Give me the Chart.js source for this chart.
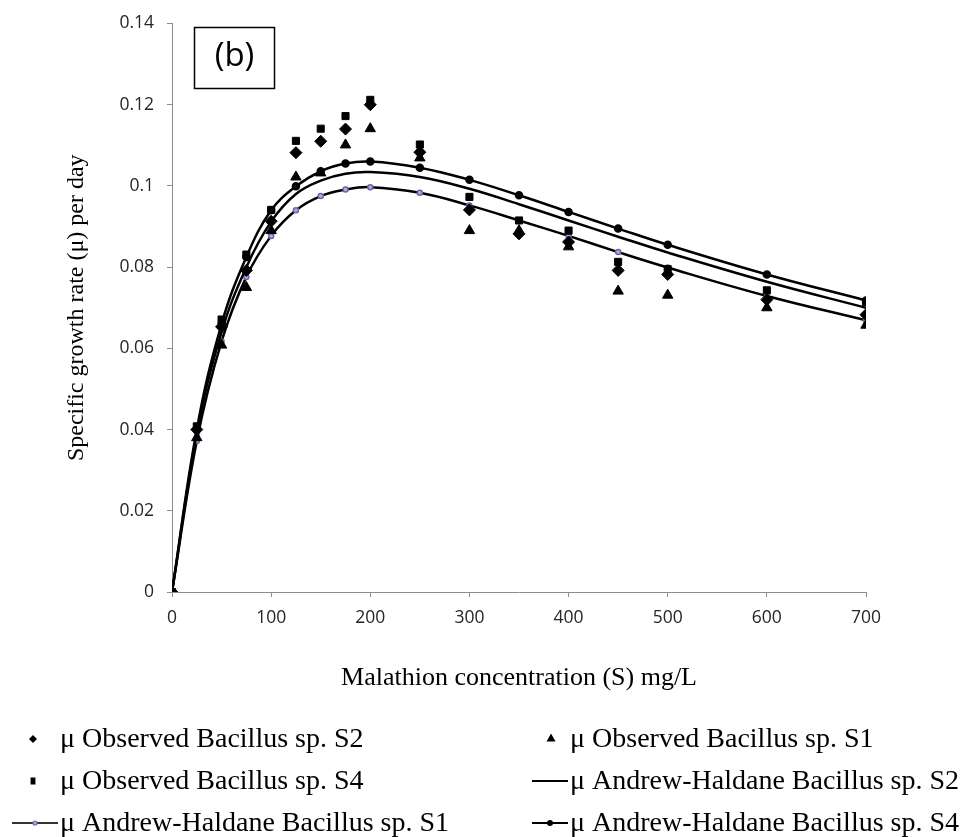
<!DOCTYPE html>
<html>
<head>
<meta charset="utf-8">
<script src="https://cdn.jsdelivr.net/npm/chart.js@4.4.1/dist/chart.umd.min.js"></script>
<style>
  html, body { margin: 0; padding: 0; background: #fff; }
  #wrap { width: 972px; height: 837px; position: relative; }
</style>
</head>
<body>
<div id="wrap"><canvas id="growthChart"></canvas></div>
<script>
// Malathion concentration (S) mg/L
const concentration = [0, 25, 50, 75, 100, 125, 150, 175, 200, 250, 300, 350, 400, 450, 500, 600, 700];

// observed specific growth rates
const obsS2 = [0, 0.0400, 0.0653, 0.0792, 0.0913, 0.1082, 0.1110, 0.1140, 0.1200, 0.1083, 0.0941, 0.0882, 0.0862, 0.0792, 0.0782, 0.0720, 0.0683];
const obsS1 = [0, 0.0380, 0.0608, 0.0750, 0.0890, 0.1022, 0.1032, 0.1101, 0.1141, 0.1069, 0.0890, 0.0890, 0.0850, 0.0741, 0.0731, 0.0700, 0.0657];
const obsS4 = [0, 0.0408, 0.0671, 0.0831, 0.0941, 0.1111, 0.1141, 0.1172, 0.1212, 0.1102, 0.0973, 0.0915, 0.0890, 0.0813, 0.0795, 0.0743, 0.0714];

// Andrew-Haldane model curves
const fitS2 = [0, 0.0390, 0.0640, 0.0800, 0.0912, 0.0980, 0.1013, 0.1030, 0.1034, 0.1022, 0.0993, 0.0955, 0.0915, 0.0875, 0.0836, 0.0764, 0.0700];
const fitS1 = [0, 0.0372, 0.0617, 0.0776, 0.0877, 0.0940, 0.0975, 0.0991, 0.0997, 0.0983, 0.0952, 0.0915, 0.0877, 0.0837, 0.0799, 0.0729, 0.0669];
const fitS4 = [0, 0.0400, 0.0660, 0.0825, 0.0940, 0.0999, 0.1036, 0.1055, 0.1060, 0.1045, 0.1015, 0.0977, 0.0936, 0.0895, 0.0855, 0.0782, 0.0718];

const xTicks = [0, 100, 200, 300, 400, 500, 600, 700];
const yTickLabels = ["0", "0.02", "0.04", "0.06", "0.08", "0.1", "0.12", "0.14"];

const legendLabels = [
  "μ Observed Bacillus sp. S2",
  "μ Observed Bacillus sp. S1",
  "μ Observed Bacillus sp. S4",
  "μ Andrew-Haldane Bacillus sp. S2",
  "μ Andrew-Haldane Bacillus sp. S1",
  "μ Andrew-Haldane Bacillus sp. S4"
];

const toPoints = (ys) => concentration.map((x, i) => ({ x: x, y: ys[i] }));

const purpleEdge = "#7560a8";
const purpleFill = "#b9acd8";

// marker helper for the legend
function marker(ctx, style, x, y, r, fill, stroke) {
  ctx.save();
  ctx.fillStyle = fill;
  ctx.strokeStyle = stroke || fill;
  ctx.beginPath();
  if (style === "rectRot") {
    ctx.moveTo(x, y - r); ctx.lineTo(x + r, y); ctx.lineTo(x, y + r); ctx.lineTo(x - r, y);
    ctx.closePath(); ctx.fill();
  } else if (style === "triangle") {
    ctx.moveTo(x, y - r); ctx.lineTo(x + r, y + r * 0.8); ctx.lineTo(x - r, y + r * 0.8);
    ctx.closePath(); ctx.fill();
  } else if (style === "rect") {
    ctx.rect(x - r * 0.7, y - r, r * 1.4, r * 2); ctx.fill();
  } else if (style === "circle") {
    ctx.arc(x, y, r, 0, Math.PI * 2); ctx.fill();
    if (stroke) { ctx.lineWidth = 1.2; ctx.stroke(); }
  }
  ctx.restore();
}

// "(b)" panel tag + two-column legend below the plot
const extrasPlugin = {
  id: "extras",
  afterDraw(chart) {
    const ctx = chart.ctx;
    ctx.save();
    ctx.strokeStyle = "#000";
    ctx.lineWidth = 1.5;
    ctx.strokeRect(194.5, 27.5, 80, 61);
    ctx.fillStyle = "#000";
    ctx.font = "33px 'Open Sans'";
    ctx.textAlign = "center";
    ctx.textBaseline = "middle";
    ctx.fillText("(b)", 234.5, 57);

    ctx.font = "28px 'Liberation Serif'";
    ctx.textAlign = "left";
    const rows = [740, 782, 824];
    const leftText = 60, rightText = 570;

    // row 1
    marker(ctx, "rectRot", 33, rows[0] - 1, 4, "#000");
    ctx.fillText(legendLabels[0], leftText, rows[0]);
    marker(ctx, "triangle", 551, rows[0] - 2, 4.5, "#000");
    ctx.fillText(legendLabels[1], rightText, rows[0]);
    // row 2
    marker(ctx, "rect", 33, rows[1] - 1, 3.5, "#000");
    ctx.fillText(legendLabels[2], leftText, rows[1]);
    ctx.lineWidth = 2;
    ctx.beginPath(); ctx.moveTo(532, rows[1] - 1); ctx.lineTo(568, rows[1] - 1); ctx.stroke();
    ctx.fillText(legendLabels[3], rightText, rows[1]);
    // row 3
    ctx.strokeStyle = "#333";
    ctx.beginPath(); ctx.moveTo(12, rows[2] - 1); ctx.lineTo(58, rows[2] - 1); ctx.stroke();
    marker(ctx, "circle", 35, rows[2] - 1, 2, purpleFill, purpleEdge);
    ctx.fillText(legendLabels[4], leftText, rows[2]);
    ctx.strokeStyle = "#000";
    ctx.beginPath(); ctx.moveTo(532, rows[2] - 1); ctx.lineTo(568, rows[2] - 1); ctx.stroke();
    marker(ctx, "circle", 550, rows[2] - 1, 3, "#000");
    ctx.fillText(legendLabels[5], rightText, rows[2]);
    ctx.restore();
  }
};

const ctx = document.getElementById("growthChart").getContext("2d");

new Chart(ctx, {
  type: "line",
  data: {
    datasets: [
      {
        label: legendLabels[0], data: toPoints(obsS2), showLine: false,
        pointStyle: "rectRot", pointRadius: 6, pointBackgroundColor: "#000", pointBorderColor: "#000",
        order: 1
      },
      {
        label: legendLabels[1], data: toPoints(obsS1), showLine: false,
        pointStyle: "triangle", pointRadius: 6, pointBackgroundColor: "#000", pointBorderColor: "#000",
        order: 1
      },
      {
        label: legendLabels[2], data: toPoints(obsS4), showLine: false,
        pointStyle: "rect", pointRadius: 5, pointBackgroundColor: "#000", pointBorderColor: "#000",
        order: 1
      },
      {
        label: legendLabels[3], data: toPoints(fitS2), borderColor: "#000", borderWidth: 2.5,
        pointRadius: 0, tension: 0.4, fill: false, order: 2
      },
      {
        label: legendLabels[4], data: toPoints(fitS1), borderColor: "#000", borderWidth: 2.5,
        pointRadius: 2.5, pointStyle: "circle", pointBackgroundColor: purpleFill,
        pointBorderColor: purpleEdge, pointBorderWidth: 1.5, tension: 0.4, fill: false, order: 2
      },
      {
        label: legendLabels[5], data: toPoints(fitS4), borderColor: "#000", borderWidth: 2.5,
        pointRadius: 3, pointStyle: "circle", pointBackgroundColor: "#000",
        pointBorderColor: "#000", tension: 0.4, fill: false, order: 2
      }
    ]
  },
  options: {
    responsive: true,
    maintainAspectRatio: false,
    animation: false,
    layout: { padding: { left: 0, top: 23, right: 106, bottom: 0 } },
    scales: {
      x: {
        type: "linear",
        min: 0, max: 700,
        afterBuildTicks: (scale) => { scale.ticks = xTicks.map(v => ({ value: v })); },
        afterFit: (scale) => { scale.height = 245; },
        ticks: {
          color: "#262626", padding: 11,
          font: { family: "'Open Sans'", size: 17.5 },
          callback: (v) => String(v)
        },
        grid: { drawOnChartArea: false, drawTicks: true, tickLength: 5, color: "#8c8c8c" },
        border: { color: "#8c8c8c", width: 1 },
        title: {
          display: true, text: "Malathion concentration (S) mg/L", color: "#000",
          font: { family: "'Liberation Serif'", size: 26 },
          padding: { top: 0, bottom: 143 }
        }
      },
      y: {
        min: 0, max: 0.14,
        afterBuildTicks: (scale) => { scale.ticks = yTickLabels.map(t => ({ value: parseFloat(t) })); },
        afterFit: (scale) => { scale.width = 172; },
        ticks: {
          color: "#262626", padding: 13,
          font: { family: "'Open Sans'", size: 17.5 },
          callback: (v, i) => yTickLabels[i]
        },
        grid: { drawOnChartArea: false, drawTicks: true, tickLength: 5, color: "#8c8c8c" },
        border: { color: "#8c8c8c", width: 1 },
        title: {
          display: true, text: "Specific growth rate (μ) per day", color: "#000",
          font: { family: "'Liberation Serif'", size: 24 },
          padding: { top: 62, bottom: 0 }
        }
      }
    },
    plugins: {
      legend: { display: false },
      tooltip: { enabled: false }
    }
  },
  plugins: [extrasPlugin]
});
</script>
</body>
</html>
